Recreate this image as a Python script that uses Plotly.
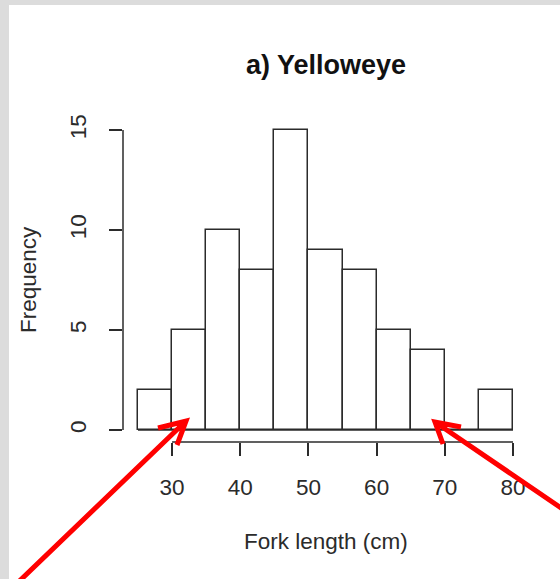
import plotly.graph_objects as go

# ---- data ----
bin_edges = [25, 30, 35, 40, 45, 50, 55, 60, 65, 70, 75, 80]
counts = [2, 5, 10, 8, 15, 9, 8, 5, 4, 0, 2]
x_ticks = [30, 40, 50, 60, 70, 80]
y_ticks = [0, 5, 10, 15]
title_text = "a) Yelloweye"
x_label = "Fork length (cm)"
y_label = "Frequency"

W, H = 560, 579
ML, MR, MT, MB = 123, 32, 118, 137
PW, PH = W - ML - MR, H - MT - MB

def fx(px):
    return (px - ML) / PW

def fy(py):
    return (H - MB - py) / PH

centers = [(a + b) / 2 for a, b in zip(bin_edges[:-1], bin_edges[1:])]
widths = [b - a for a, b in zip(bin_edges[:-1], bin_edges[1:])]

INK = "#2b2b2b"
FONT = "Liberation Sans, Arial, sans-serif"
FS = 22.5

fig = go.Figure()
fig.add_trace(go.Bar(
    x=centers, y=counts, width=widths,
    marker=dict(color="white", line=dict(color=INK, width=1.5)),
    hoverinfo="x+y",
))

shapes = []
# white panel over gray frame
shapes.append(dict(type="rect", xref="paper", yref="paper",
                   x0=fx(9), x1=fx(W + 5), y0=fy(5), y1=fy(H + 5),
                   fillcolor="white", line=dict(width=0), layer="below"))
# baseline under bars (covers empty bin)
shapes.append(dict(type="line", xref="x", yref="y",
                   x0=bin_edges[0], x1=bin_edges[-1], y0=0, y1=0,
                   line=dict(color=INK, width=1.5)))
# R-style axis lines spanning tick range
shapes.append(dict(type="line", xref="x", yref="paper",
                   x0=x_ticks[0], x1=x_ticks[-1], y0=0, y1=0,
                   line=dict(color=INK, width=1.5)))
shapes.append(dict(type="line", xref="paper", yref="y",
                   x0=0, x1=0, y0=y_ticks[0], y1=y_ticks[-1],
                   line=dict(color=INK, width=1.5)))

# red arrows (open heads)
def arrow(tail, tip, arm1, arm2):
    p = lambda q: f"{fx(q[0])},{fy(q[1])}"
    return dict(type="path", xref="paper", yref="paper",
                path=f"M{p(tail)} L{p(tip)} M{p(arm1)} L{p(tip)} L{p(arm2)}",
                line=dict(color="#ff0000", width=5))

shapes.append(arrow((8, 592), (186, 421), (158, 428), (177, 445)))
shapes.append(arrow((570, 514), (435, 422), (461, 427), (443, 444)))

annotations = [
    dict(text=f"<b>{title_text}</b>", xref="paper", yref="paper",
         x=fx(326), y=fy(65), showarrow=False,
         font=dict(family=FONT, size=27, color="#111"),
         xanchor="center", yanchor="middle"),
    dict(text=x_label, xref="paper", yref="paper",
         x=fx(326), y=fy(541), showarrow=False,
         font=dict(family=FONT, size=FS, color=INK),
         xanchor="center", yanchor="middle"),
    dict(text=y_label, xref="paper", yref="paper",
         x=fx(28), y=fy(280), showarrow=False, textangle=-90,
         font=dict(family=FONT, size=FS, color=INK),
         xanchor="center", yanchor="middle"),
]

fig.update_layout(
    width=W, height=H,
    margin=dict(l=ML, r=MR, t=MT, b=MB, pad=0),
    paper_bgcolor="#dcdcdc",
    plot_bgcolor="rgba(0,0,0,0)",
    showlegend=False,
    bargap=0,
    shapes=shapes,
    annotations=annotations,
    font=dict(family=FONT, size=FS, color=INK),
    xaxis=dict(range=[22.8, 82.2], tickvals=x_ticks, ticks="outside",
               ticklen=13, tickwidth=1.5, tickcolor=INK, showline=False,
               showgrid=False, zeroline=False, fixedrange=True,
               ticklabelstandoff=12,
               tickfont=dict(family=FONT, size=FS, color=INK)),
    yaxis=dict(range=[-0.6, 15.6], tickvals=y_ticks, ticks="outside",
               ticklen=13, tickwidth=1.5, tickcolor=INK, showline=False,
               showgrid=False, zeroline=False, fixedrange=True,
               tickangle=-90, ticklabelstandoff=14,
               tickfont=dict(family=FONT, size=FS, color=INK)),
)

fig.write_html("out.html")
